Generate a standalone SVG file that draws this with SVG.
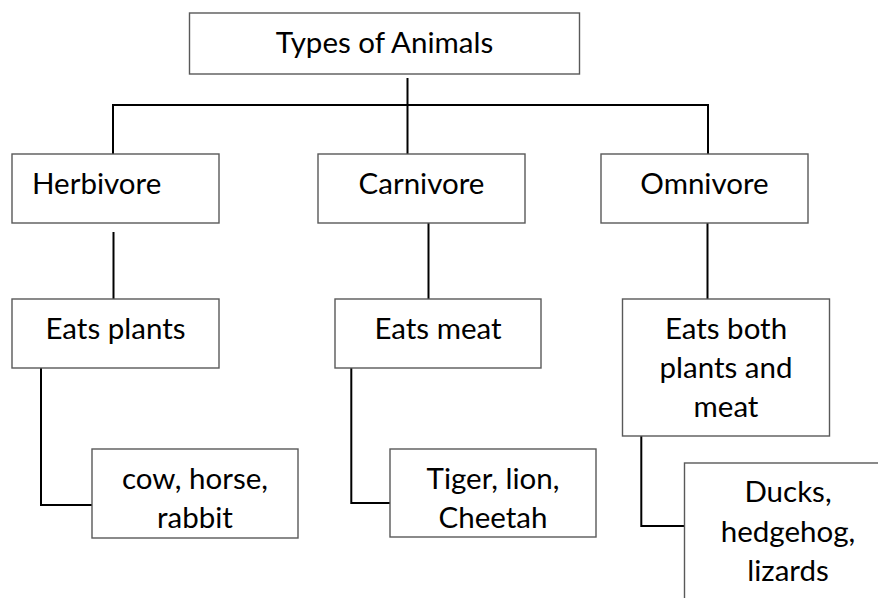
<svg xmlns="http://www.w3.org/2000/svg" width="878" height="598" viewBox="0 0 878 598">
<style>
.box{fill:#ffffff;stroke:#595959;stroke-width:1.4}
.lbl{font-family:Lato,"Liberation Sans",sans-serif;font-size:29.5px;fill:#000000;text-anchor:middle}
.conn{fill:none;stroke:#000000;stroke-width:2}
</style>
<rect x="0" y="0" width="878" height="598" fill="#ffffff"/>
<g id="connectors">
<path class="conn" d="M407.5 78 V154"/>
<path class="conn" d="M113 105 H708"/>
<path class="conn" d="M113 104 V154"/>
<path class="conn" d="M708 104 V154"/>
<path class="conn" d="M113.5 232 V299"/>
<path class="conn" d="M428.5 223 V299"/>
<path class="conn" d="M707.5 223 V299"/>
<path class="conn" d="M41 368 V505 H92"/>
<path class="conn" d="M351.3 368 V503 H390"/>
<path class="conn" d="M641.3 436 V526 H684"/>
</g>
<g id="types">
<rect class="box" x="189.5" y="13" width="390" height="61"/>
<text class="lbl" x="384.5" y="53">Types of Animals</text>
</g>
<g id="herbivore">
<rect class="box" x="12" y="154" width="207" height="69"/>
<text class="lbl" x="32" y="194" style="text-anchor:start">Herbivore</text>
</g>
<g id="carnivore">
<rect class="box" x="318" y="154" width="207" height="69"/>
<text class="lbl" x="421.5" y="194">Carnivore</text>
</g>
<g id="omnivore">
<rect class="box" x="601" y="154" width="207" height="69"/>
<text class="lbl" x="704.5" y="194">Omnivore</text>
</g>
<g id="eats-plants">
<rect class="box" x="12" y="299" width="207" height="69"/>
<text class="lbl" x="115.5" y="339">Eats plants</text>
</g>
<g id="eats-meat">
<rect class="box" x="335" y="299" width="206" height="69"/>
<text class="lbl" x="438" y="339">Eats meat</text>
</g>
<g id="eats-both">
<rect class="box" x="622.5" y="299" width="207" height="137"/>
<text class="lbl" x="726" y="339">Eats both</text>
<text class="lbl" x="726" y="378">plants and</text>
<text class="lbl" x="726" y="417">meat</text>
</g>
<g id="cow">
<rect class="box" x="92" y="449" width="206" height="89"/>
<text class="lbl" x="195" y="489">cow, horse,</text>
<text class="lbl" x="195" y="528">rabbit</text>
</g>
<g id="tiger">
<rect class="box" x="390" y="449" width="206" height="88"/>
<text class="lbl" x="493" y="489">Tiger, lion,</text>
<text class="lbl" x="493" y="528">Cheetah</text>
</g>
<g id="ducks">
<rect class="box" x="684.5" y="463" width="207" height="150"/>
<text class="lbl" x="788" y="502">Ducks,</text>
<text class="lbl" x="788" y="542">hedgehog,</text>
<text class="lbl" x="788" y="581">lizards</text>
</g>
</svg>
